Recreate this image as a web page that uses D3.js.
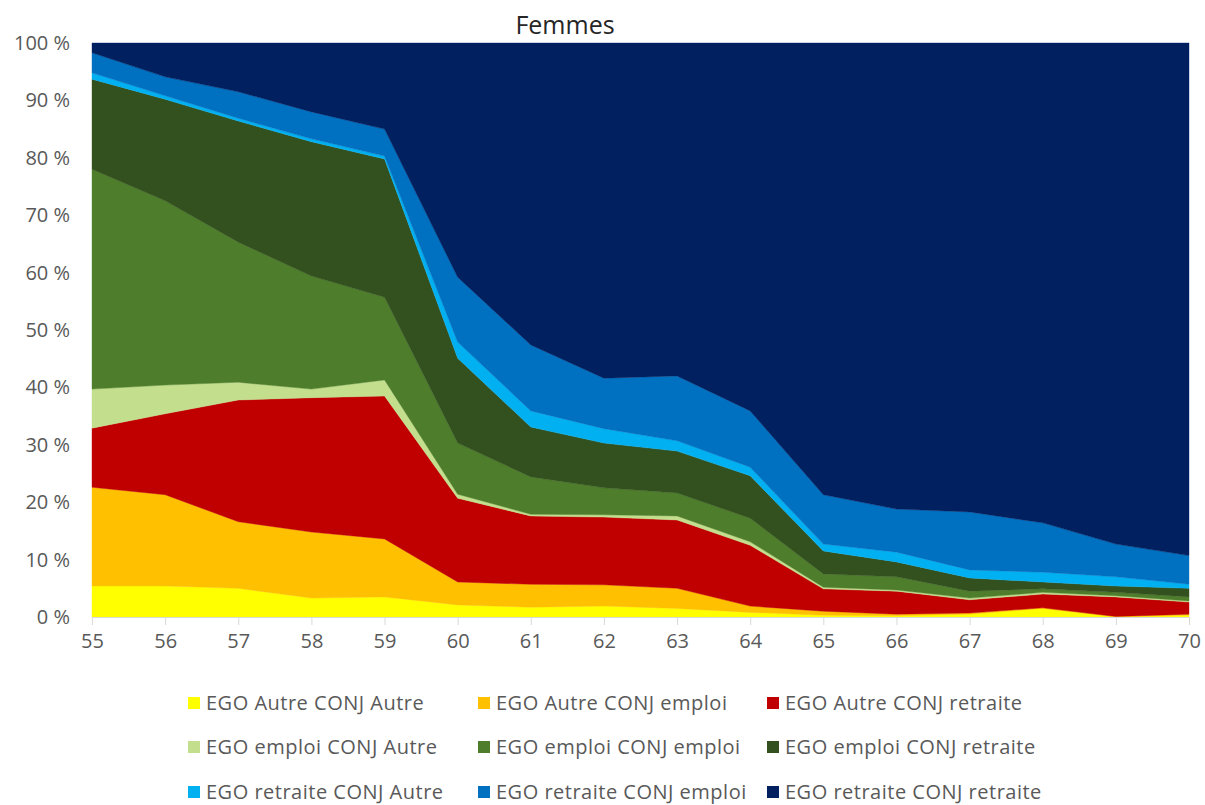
<!DOCTYPE html>
<html>
<head>
<meta charset="utf-8">
<script src="https://cdn.jsdelivr.net/npm/d3@7"></script>
<style>
  html, body { margin: 0; padding: 0; background: #fff; }
  svg { display: block; }
  text { font-family: "Open Sans", "Noto Sans", sans-serif; }
</style>
</head>
<body>
<svg id="chart" width="1205" height="805"></svg>
<script>
// Âge (abscisse)
const ages = [55, 56, 57, 58, 59, 60, 61, 62, 63, 64, 65, 66, 67, 68, 69, 70];

// Parts (%) de chaque situation du couple, par âge
const egoAutreConjAutre       = [5.4, 5.4, 5.0, 3.3, 3.5, 2.1, 1.7, 1.9, 1.5, 0.8, 0.3, 0.2, 0.5, 1.5, 0.0, 0.3];
const egoAutreConjEmploi      = [17.2, 15.9, 11.6, 11.5, 10.1, 4.0, 4.0, 3.7, 3.5, 1.1, 0.7, 0.3, 0.2, 0.1, 0.1, 0.2];
const egoAutreConjRetraite    = [10.3, 14.1, 21.2, 23.4, 24.9, 14.6, 11.9, 11.8, 11.9, 10.6, 3.9, 4.0, 2.3, 2.4, 3.4, 2.1];
const egoEmploiConjAutre      = [6.8, 5.0, 3.1, 1.5, 2.8, 0.7, 0.3, 0.4, 0.7, 0.6, 0.3, 0.2, 0.3, 0.3, 0.2, 0.2];
const egoEmploiConjEmploi     = [38.3, 32.1, 24.4, 19.7, 14.4, 8.9, 6.5, 4.7, 4.0, 4.1, 2.3, 2.3, 1.2, 0.6, 0.6, 0.7];
const egoEmploiConjRetraite   = [15.7, 17.7, 21.1, 23.4, 24.1, 14.8, 8.7, 7.8, 7.3, 7.4, 4.0, 2.6, 2.3, 1.2, 1.1, 1.5];
const egoRetraiteConjAutre    = [1.1, 0.6, 0.5, 0.5, 0.5, 2.8, 2.8, 2.5, 1.8, 1.5, 1.2, 1.7, 1.4, 1.7, 1.6, 0.7];
const egoRetraiteConjEmploi   = [3.5, 3.3, 4.6, 4.7, 4.7, 11.3, 11.5, 8.8, 11.3, 9.8, 8.6, 7.5, 10.1, 8.6, 5.7, 5.0];
const egoRetraiteConjRetraite = [1.7, 5.9, 8.5, 12.0, 15.0, 40.8, 52.6, 58.4, 58.0, 64.1, 78.7, 81.2, 81.7, 83.6, 87.3, 89.3];

// Libellés des séries (ordre d'empilement)
const seriesNames = [
  "EGO Autre CONJ Autre", "EGO Autre CONJ emploi", "EGO Autre CONJ retraite",
  "EGO emploi CONJ Autre", "EGO emploi CONJ emploi", "EGO emploi CONJ retraite",
  "EGO retraite CONJ Autre", "EGO retraite CONJ emploi", "EGO retraite CONJ retraite"
];
const seriesValues = [
  egoAutreConjAutre, egoAutreConjEmploi, egoAutreConjRetraite,
  egoEmploiConjAutre, egoEmploiConjEmploi, egoEmploiConjRetraite,
  egoRetraiteConjAutre, egoRetraiteConjEmploi, egoRetraiteConjRetraite
];
const seriesColors = [
  "#FFFF00", "#FFC000", "#C00000",
  "#C3DE8C", "#4E7E2C", "#33511E",
  "#00B0F0", "#0070C0", "#002060"
];

const yTicks = [0, 10, 20, 30, 40, 50, 60, 70, 80, 90, 100];
const chartTitle = "Femmes";

// Tableau par âge pour d3.stack, normalisé à 100 %
const rows = ages.map((age, i) => {
  const r = { age };
  let total = 0;
  seriesNames.forEach((n, s) => { total += seriesValues[s][i]; });
  seriesNames.forEach((n, s) => { r[n] = seriesValues[s][i] * 100 / total; });
  return r;
});

const svg = d3.select("#chart");
const plot = { left: 92, right: 1189, top: 43, bottom: 617 };

const x = d3.scaleLinear().domain([d3.min(ages), d3.max(ages)]).range([plot.left, plot.right]);
const y = d3.scaleLinear().domain([0, 100]).range([plot.bottom, plot.top]);

const stacked = d3.stack().keys(seriesNames)(rows);

const area = d3.area()
  .x(d => x(d.data.age))
  .y0(d => y(d[0]))
  .y1(d => y(d[1]))
  .curve(d3.curveLinear);

svg.append("g")
  .selectAll("path")
  .data(stacked)
  .join("path")
  .attr("d", area)
  .attr("fill", (d, i) => seriesColors[i])
  .attr("stroke", (d, i) => seriesColors[i])
  .attr("stroke-width", 0.4);

// Axe des abscisses
const xAxis = svg.append("g")
  .attr("transform", `translate(0,${plot.bottom})`)
  .call(d3.axisBottom(x).tickValues(ages).tickFormat(d3.format("d")).tickSize(8).tickSizeOuter(0).tickPadding(9));
xAxis.select(".domain").attr("stroke", "#D9D9D9").attr("stroke-width", 1);
xAxis.selectAll(".tick line").attr("stroke", "#D9D9D9");
xAxis.selectAll(".tick text")
  .attr("fill", "#595959")
  .style("font-size", "20px")
  .style("font-family", "'Open Sans', sans-serif");

// Axe des ordonnées (libellés seuls)
const yAxis = svg.append("g")
  .attr("transform", `translate(${plot.left},0)`)
  .call(d3.axisLeft(y).tickValues(yTicks).tickFormat(d => d + " %").tickSize(0).tickPadding(22));
yAxis.select(".domain").remove();
yAxis.selectAll(".tick text")
  .attr("fill", "#595959")
  .style("font-size", "20px")
  .style("font-family", "'Open Sans', sans-serif");

// Titre
svg.append("text")
  .attr("x", 565)
  .attr("y", 34)
  .attr("text-anchor", "middle")
  .attr("fill", "#262626")
  .style("font-size", "25px")
  .text(chartTitle);

// Légende sur trois colonnes
const legendCols = [188, 478, 767];
const legendRows = [703, 747, 792];
const legend = svg.append("g");
seriesNames.forEach((name, i) => {
  const cx = legendCols[i % 3];
  const cy = legendRows[Math.floor(i / 3)];
  legend.append("rect")
    .attr("x", cx)
    .attr("y", cy - 6)
    .attr("width", 12)
    .attr("height", 12)
    .attr("fill", seriesColors[i]);
  legend.append("text")
    .attr("x", cx + 18)
    .attr("y", cy)
    .attr("dy", "0.35em")
    .attr("fill", "#595959")
    .style("font-size", "20px")
    .style("letter-spacing", "0.5px")
    .text(name);
});
</script>
</body>
</html>
